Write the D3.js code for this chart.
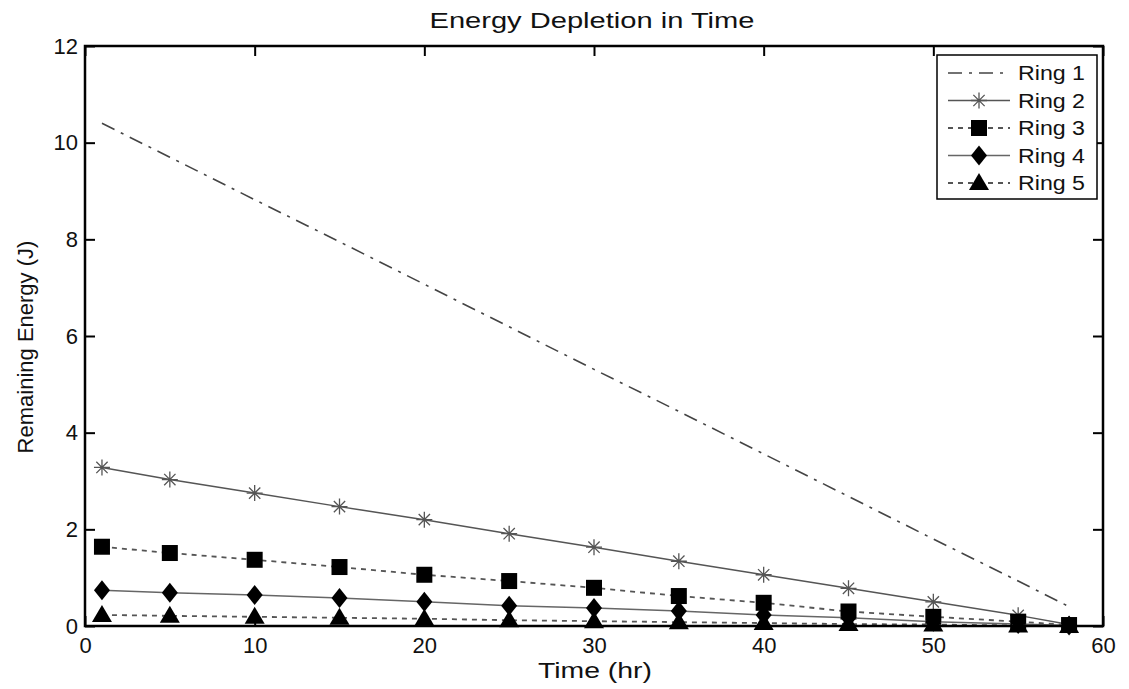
<!DOCTYPE html>
<html lang="en">
<head>
<meta charset="UTF-8">
<script src="https://d3js.org/d3.v7.min.js"></script>
<style>
  body { margin: 0; background: #fff; font-family: "Liberation Sans", Arial, sans-serif; }
  svg text { font-family: "Liberation Sans", Arial, sans-serif; fill: #111; }
</style>
</head>
<body>
<svg id="chart"></svg>
<script>
// data
const hours = [1, 5, 10, 15, 20, 25, 30, 35, 40, 45, 50, 55, 58];
const ring1 = [10.40, 9.70, 8.82, 7.95, 7.07, 6.19, 5.31, 4.44, 3.56, 2.68, 1.80, 0.93, 0.40];
const ring2 = [3.28, 3.03, 2.75, 2.47, 2.20, 1.91, 1.63, 1.34, 1.06, 0.78, 0.50, 0.22, 0.03];
const ring3 = [1.64, 1.51, 1.37, 1.22, 1.06, 0.93, 0.79, 0.62, 0.48, 0.30, 0.19, 0.09, 0.02];
const ring4 = [0.74, 0.69, 0.64, 0.58, 0.50, 0.42, 0.37, 0.31, 0.23, 0.17, 0.09, 0.04, 0.01];
const ring5 = [0.23, 0.21, 0.19, 0.17, 0.15, 0.12, 0.10, 0.08, 0.06, 0.04, 0.03, 0.01, 0.00];
const seriesNames = ["Ring 1", "Ring 2", "Ring 3", "Ring 4", "Ring 5"];
const xTicks = [0, 10, 20, 30, 40, 50, 60];
const yTicks = [0, 2, 4, 6, 8, 10, 12];

const W = 1129, H = 689;
const margin = {top: 46, right: 26, bottom: 63, left: 85};

const svg = d3.select("#chart").attr("width", W).attr("height", H);

const x = d3.scaleLinear().domain([0, 60]).range([margin.left, W - margin.right]);
const y = d3.scaleLinear().domain([0, 12]).range([H - margin.bottom, margin.top]);

const styles = [
  {dash: "14,7,3,7", stroke: "#444", width: 1.6, marker: null},
  {dash: null, stroke: "#555", width: 1.5, marker: "star"},
  {dash: "5,5", stroke: "#555", width: 1.8, marker: "square"},
  {dash: null, stroke: "#666", width: 1.5, marker: "diamond"},
  {dash: "5,5", stroke: "#555", width: 1.8, marker: "triangle"}
];
const allRings = [ring1, ring2, ring3, ring4, ring5];

function drawMarker(g, type, cx, cy) {
  if (type === "square") {
    g.append("rect").attr("x", cx - 8).attr("y", cy - 8).attr("width", 16).attr("height", 16).attr("fill", "#000");
  } else if (type === "diamond") {
    g.append("path").attr("d", `M${cx},${cy - 10}L${cx + 8},${cy}L${cx},${cy + 10}L${cx - 8},${cy}Z`).attr("fill", "#000");
  } else if (type === "triangle") {
    g.append("path").attr("d", `M${cx},${cy - 10}L${cx + 10},${cy + 7}L${cx - 10},${cy + 7}Z`).attr("fill", "#000");
  } else if (type === "star") {
    const r = 8;
    let d = "";
    for (let i = 0; i < 4; i++) {
      const a = i * Math.PI / 4;
      d += `M${cx - r * Math.cos(a)},${cy - r * Math.sin(a)}L${cx + r * Math.cos(a)},${cy + r * Math.sin(a)}`;
    }
    g.append("path").attr("d", d).attr("stroke", "#555").attr("stroke-width", 1.3).attr("fill", "none");
  }
}

const line = d3.line().x(d => x(d[0])).y(d => y(d[1]));

allRings.forEach((vals, i) => {
  const st = styles[i];
  const pts = hours.map((h, j) => [h, vals[j]]);
  svg.append("path")
    .datum(pts)
    .attr("d", line)
    .attr("fill", "none")
    .attr("stroke", st.stroke)
    .attr("stroke-width", st.width)
    .attr("stroke-dasharray", st.dash);
  if (st.marker) {
    const g = svg.append("g");
    pts.forEach(p => drawMarker(g, st.marker, x(p[0]), y(p[1])));
  }
});

// axes box, matlab style ticks pointing inward
const axStyle = g => {
  g.select(".domain").remove();
  g.selectAll(".tick line").attr("stroke", "#000").attr("stroke-width", 2);
  g.selectAll(".tick text").attr("font-size", 22).attr("fill", "#111");
};

svg.append("g")
  .attr("transform", `translate(0,${H - margin.bottom})`)
  .call(d3.axisBottom(x).tickValues(xTicks).tickSize(-10).tickPadding(11))
  .call(axStyle);
svg.append("g")
  .attr("transform", `translate(0,${margin.top})`)
  .call(d3.axisTop(x).tickValues(xTicks).tickSize(-10).tickFormat(""))
  .call(axStyle);
svg.append("g")
  .attr("transform", `translate(${margin.left},0)`)
  .call(d3.axisLeft(y).tickValues(yTicks).tickSize(-10).tickPadding(7))
  .call(axStyle);
svg.append("g")
  .attr("transform", `translate(${W - margin.right},0)`)
  .call(d3.axisRight(y).tickValues(yTicks).tickSize(-10).tickFormat(""))
  .call(axStyle);

svg.append("rect")
  .attr("x", margin.left).attr("y", margin.top)
  .attr("width", W - margin.left - margin.right)
  .attr("height", H - margin.top - margin.bottom)
  .attr("fill", "none").attr("stroke", "#000").attr("stroke-width", 2.5);

// titles (source picture is stretched sideways, hence textLength)
svg.append("text")
  .attr("x", 592).attr("y", 28)
  .attr("text-anchor", "middle").attr("font-size", 22)
  .attr("textLength", 325).attr("lengthAdjust", "spacingAndGlyphs")
  .text("Energy Depletion in Time");
svg.append("text")
  .attr("x", 595).attr("y", 678)
  .attr("text-anchor", "middle").attr("font-size", 22)
  .attr("textLength", 114).attr("lengthAdjust", "spacingAndGlyphs")
  .text("Time (hr)");
svg.append("text")
  .attr("transform", `translate(33,347) rotate(-90)`)
  .attr("text-anchor", "middle").attr("font-size", 22)
  .text("Remaining Energy (J)");

// legend
const lg = svg.append("g").attr("transform", "translate(937,55)");
lg.append("rect").attr("width", 160).attr("height", 144)
  .attr("fill", "#fff").attr("stroke", "#000").attr("stroke-width", 1.5);
seriesNames.forEach((name, i) => {
  const st = styles[i];
  const ly = 18 + i * 27.5;
  lg.append("line")
    .attr("x1", 11).attr("x2", 73).attr("y1", ly).attr("y2", ly)
    .attr("stroke", st.stroke).attr("stroke-width", st.width)
    .attr("stroke-dasharray", st.dash);
  if (st.marker) drawMarker(lg, st.marker, 42, ly);
  lg.append("text")
    .attr("x", 81).attr("y", ly + 7)
    .attr("font-size", 20)
    .attr("textLength", 67).attr("lengthAdjust", "spacingAndGlyphs")
    .text(name);
});
</script>
</body>
</html>
